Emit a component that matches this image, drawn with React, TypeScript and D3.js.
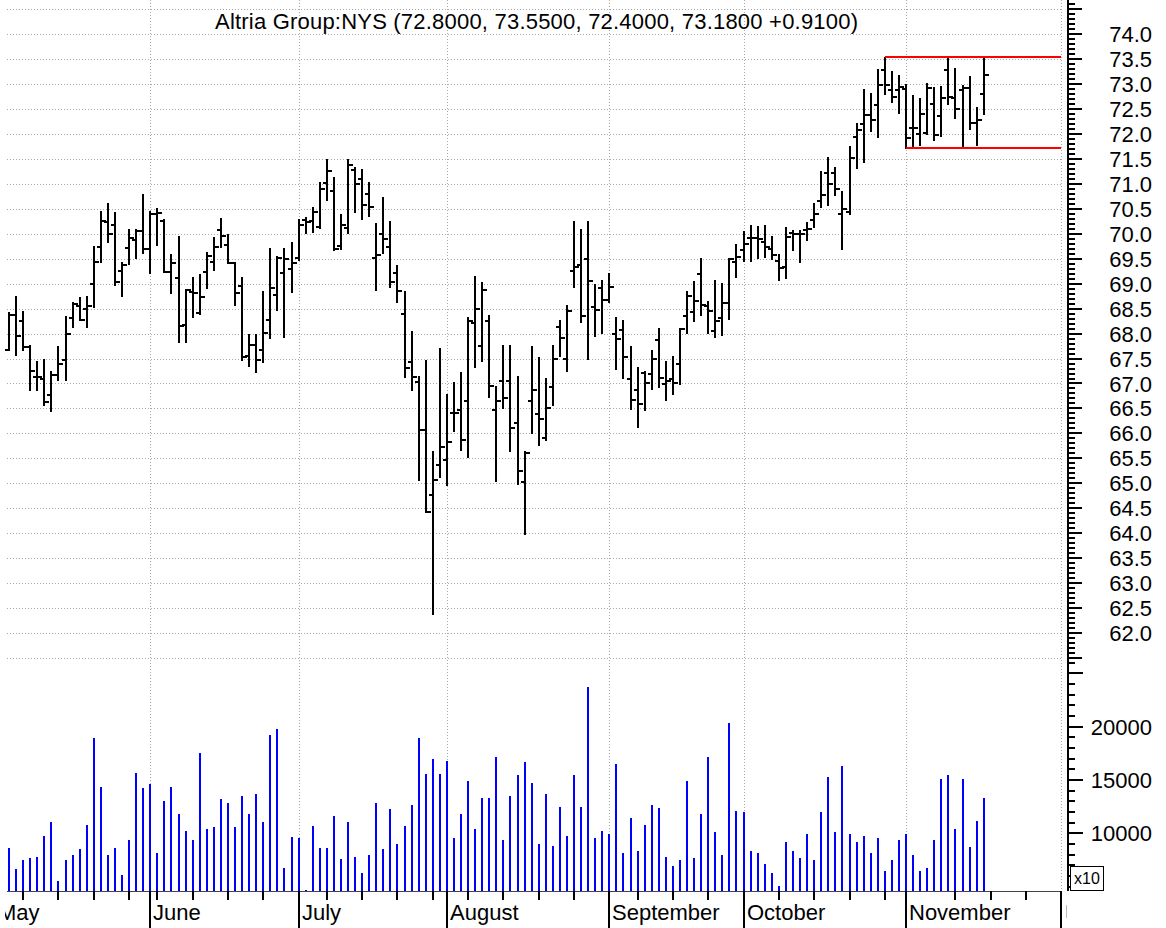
import React from "react";
import * as d3 from "d3";

// Altria Group daily bars, 3 May - 16 Nov (one entry per trading day)
const opens = [
  67.68, 68.37, 68.25, 67.74, 67.14, 67.1, 66.77, 67.17, 67.47, 68.32,
  68.55, 68.5, 69.0, 69.74, 70.24, 70.18, 69.26, 69.72, 69.88, 70.06,
  69.69, 70.4, 70.26, 69.23, 69.11, 68.17, 68.84, 68.42, 69.24, 69.44,
  70.08, 69.78, 69.41, 68.95, 67.55, 67.77, 67.67, 68.27, 68.77, 69.21,
  69.29, 69.51, 70.28, 70.26, 70.14, 71.01, 70.85, 69.76, 70.11, 71.28,
  71.09, 70.8, 69.52, 70.0, 69.74, 69.22, 68.4, 67.43, 67.03, 66.06,
  64.76, 65.36, 65.47, 66.4, 66.46, 66.65, 68.21, 67.76, 68.25, 66.46,
  67.05, 67.05, 66.21, 65.03, 66.65, 66.38, 65.9, 66.92, 68.13, 67.5,
  69.26, 69.38, 69.5, 68.54, 68.91, 68.67, 67.99, 68.07, 67.09, 66.87,
  67.22, 67.2, 67.87, 66.98, 67.09, 67.39, 68.35, 68.43, 69.2, 68.56,
  68.05, 68.31, 68.61, 69.43, 69.68, 69.92, 69.92, 69.83, 69.7, 69.46,
  69.33, 70.01, 70.0, 70.08, 70.27, 70.65, 71.21, 71.21, 70.4, 70.44,
  71.94, 72.21, 72.38, 72.58, 73.28, 72.88, 72.88, 72.91, 72.13, 72.01,
  72.02, 72.61, 72.36, 73.28, 72.73, 72.88, 72.92, 72.23, 72.8,
];
const highs = [
  68.41, 68.74, 68.44, 67.75, 67.44, 67.47, 67.24, 67.74, 68.34, 68.61,
  68.71, 68.74, 69.74, 70.44, 70.6, 70.41, 69.41, 70.08, 70.08, 70.78,
  70.44, 70.49, 70.28, 69.58, 69.94, 68.87, 69.11, 69.17, 69.61, 69.91,
  70.29, 69.98, 69.42, 69.11, 67.97, 67.97, 68.84, 69.69, 69.54, 69.69,
  69.81, 70.28, 70.31, 70.51, 71.01, 71.48, 71.11, 70.38, 71.48, 71.31,
  71.28, 71.02, 70.2, 70.72, 70.24, 69.35, 68.83, 68.03, 67.13, 67.46,
  65.63, 67.7, 66.76, 67.01, 67.21, 68.32, 69.13, 69.01, 68.35, 66.92,
  67.76, 67.76, 67.13, 65.63, 67.73, 67.51, 67.1, 67.76, 68.25, 68.56,
  70.24, 70.08, 70.24, 68.98, 69.05, 69.2, 68.31, 68.25, 67.73, 67.31,
  67.24, 67.65, 68.09, 67.43, 67.54, 68.09, 68.83, 69.03, 69.5, 68.63,
  69.06, 68.99, 69.5, 69.78, 70.03, 70.16, 70.13, 70.16, 69.94, 69.57,
  70.12, 70.06, 70.06, 70.22, 70.59, 71.24, 71.51, 71.31, 70.84, 71.73,
  72.21, 72.88, 72.81, 73.29, 73.53, 73.25, 73.16, 72.98, 72.76, 72.71,
  73.01, 72.93, 72.94, 73.5, 73.31, 72.97, 73.15, 72.53, 73.55,
];
const lows = [
  67.67, 67.57, 67.67, 66.87, 66.87, 66.57, 66.44, 67.07, 67.08, 68.14,
  68.27, 68.14, 68.54, 69.44, 69.84, 68.98, 68.76, 69.39, 69.51, 69.62,
  69.21, 69.78, 69.24, 68.81, 67.84, 67.84, 68.34, 68.39, 68.91, 69.28,
  69.74, 69.41, 68.57, 67.47, 67.35, 67.24, 67.44, 67.91, 68.47, 67.94,
  68.84, 69.48, 70.01, 70.04, 70.11, 70.68, 69.68, 69.69, 70.01, 70.44,
  70.3, 70.36, 68.88, 69.62, 68.93, 68.63, 67.13, 66.86, 65.07, 64.43,
  62.39, 65.13, 64.96, 66.05, 65.67, 65.53, 67.34, 67.46, 66.73, 65.05,
  66.5, 65.65, 64.98, 63.98, 66.01, 65.76, 65.86, 66.56, 67.56, 67.26,
  68.93, 68.23, 67.49, 67.96, 68.01, 68.63, 67.29, 67.11, 66.49, 66.12,
  66.46, 66.89, 66.92, 66.67, 66.79, 66.99, 68.01, 68.26, 68.38, 68.01,
  67.93, 67.98, 68.29, 69.14, 69.45, 69.46, 69.51, 69.53, 69.5, 69.08,
  69.12, 69.67, 69.43, 69.87, 70.14, 70.54, 70.57, 70.77, 69.7, 70.4,
  71.31, 71.44, 72.06, 71.93, 72.8, 72.64, 72.42, 71.71, 71.74, 71.77,
  72.01, 71.87, 71.95, 72.6, 72.33, 71.73, 72.1, 71.78, 72.4,
];
const closes = [
  68.37, 67.96, 67.74, 67.25, 67.14, 66.62, 67.17, 67.4, 68.0, 68.6,
  68.28, 68.55, 69.44, 70.26, 69.99, 69.04, 69.38, 69.91, 70.06, 69.69,
  70.4, 70.41, 69.24, 69.41, 68.15, 68.87, 68.81, 68.74, 69.56, 69.73,
  69.96, 69.42, 68.81, 67.54, 67.77, 67.47, 68.02, 68.91, 69.51, 69.5,
  69.41, 70.18, 70.24, 70.44, 70.89, 71.25, 69.69, 70.18, 71.38, 70.99,
  70.58, 70.53, 69.57, 69.89, 69.04, 68.86, 67.32, 67.13, 66.06, 64.43,
  65.06, 65.73, 65.83, 66.4, 65.86, 68.25, 68.5, 68.87, 66.94, 66.65,
  66.7, 66.1, 65.25, 65.61, 66.86, 66.28, 66.5, 67.5, 67.91, 68.46,
  69.34, 68.35, 69.05, 68.47, 68.67, 68.94, 67.89, 67.53, 66.66, 66.58,
  67.02, 67.49, 67.12, 67.06, 67.01, 68.09, 68.76, 68.65, 68.58, 68.46,
  68.25, 68.61, 69.5, 69.53, 69.8, 69.92, 69.9, 69.73, 69.58, 69.32,
  69.93, 70.0, 69.99, 70.1, 70.39, 70.77, 70.99, 70.9, 70.5, 71.51,
  72.09, 72.38, 72.28, 72.99, 72.99, 72.74, 72.94, 71.91, 72.13, 72.4,
  72.93, 71.97, 72.73, 72.74, 72.5, 72.92, 72.22, 72.28, 73.18,
];
// volume in units of x10
const volumes = [
  8650, 6625, 7500, 7656, 7810, 9747, 11090, 5557, 7500, 7966,
  8500, 10750, 18906, 14370, 7966, 8650, 6090, 9372, 15625, 14219,
  14590, 8181, 13028, 14370, 11810, 10244, 9372, 17500, 10400, 10560,
  13187, 12870, 10560, 13525, 11810, 13684, 11090, 19215, 19750, 6775,
  9685, 9530, 4684, 10715, 8650, 8650, 11622, 7590, 11090, 7810,
  6250, 7966, 12810, 8500, 12310, 8997, 10715, 12650, 18906, 15560,
  16965, 15560, 16810, 9530, 11780, 14900, 10400, 13340, 13340, 17180,
  9372, 13525, 15466, 16656, 14744, 8997, 13684, 8840, 12494, 9747,
  15466, 12494, 23744, 9530, 10216, 9903, 16497, 8125, 11466, 8340,
  10778, 12650, 12340, 7810, 6935, 7500, 14900, 7656, 11810, 17180,
  10090, 7966, 20310, 12120, 11970, 8340, 8181, 7122, 6250, 5060,
  9215, 8340, 7656, 9903, 7500, 11970, 15250, 10090, 16310, 9903,
  9215, 9747, 8181, 9560, 6465, 7500, 9372, 9903, 7966, 6465,
  6775, 9372, 15090, 15466, 10400, 15090, 8690, 11125, 13340,
];

const monthLabels = ["May", "June", "July", "August", "September", "October", "November", ""];
const monthStarts = [-2, 20, 41, 62, 85, 104, 127, 149];
const weekStarts = [2, 7, 12, 17, 21, 26, 31, 36, 45, 50, 55, 60, 65, 70, 75, 80, 89, 94, 99, 109, 114, 119, 124, 134, 139, 144];
const priceLabels = [62, 62.5, 63, 63.5, 64, 64.5, 65, 65.5, 66, 66.5, 67, 67.5, 68, 68.5, 69, 69.5, 70, 70.5, 71, 71.5, 72, 72.5, 73, 73.5, 74];
const volumeLabels = [10000, 15000, 20000];
const title = "Altria Group:NYS (72.8000, 73.5500, 72.4000, 73.1800 +0.9100)";
// trading range drawn in red: [start bar, price]
const rangeTop = [124, 73.55];
const rangeBottom = [127, 71.72];

const W = 1166;
const H = 928;
const left = 7;
const axisX = 1068;
const baseY = 891;
const font = "'Liberation Sans', Arial, sans-serif";

export default function App() {
  const xs = d3.scaleLinear().domain([0, 138]).range([9, 983.7]);
  const x = (i: number) => Math.round(xs(i));
  const yP = d3.scaleLinear().domain([62, 74]).range([633, 34.2]);
  const yV = d3.scaleLinear().domain([10000, 20000]).range([833.3, 726.7]);
  const right = x(149);

  const priceGrid = d3.range(123, 150).map((d) => d / 2); // 61.5 .. 74.5
  const priceTicks = d3.range(614, 748).map((d) => d / 10);
  const volTicks = d3.range(5, 26).map((d) => d * 1000);

  return (
    <svg
      width={W}
      height={H}
      style={{ position: "absolute", left: 0, top: 0, background: "#fff" }}
      fontFamily={font}
    >
      <defs>
        <clipPath id="labels">
          <rect x={5} y={baseY} width={W} height={H - baseY} />
        </clipPath>
      </defs>
      <rect width={W} height={H} fill="#fff" />

      {/* grid */}
      <g stroke="#a8a8a8" strokeWidth={1} strokeDasharray="1 2">
        {priceGrid.map((p) => (
          <line key={p} x1={left} x2={right} y1={Math.round(yP(p)) + 0.5} y2={Math.round(yP(p)) + 0.5} />
        ))}
        {monthStarts.slice(1).map((m) => (
          <line key={m} x1={x(m) + 0.5} x2={x(m) + 0.5} y1={0} y2={baseY} />
        ))}
      </g>

      <text x={215} y={29} fontSize={22} fill="#000" textLength={643} lengthAdjust="spacing">
        {title}
      </text>

      {/* volume */}
      <g stroke="#0000ff" strokeWidth={2}>
        {volumes.map((v, i) => (
          <line key={i} x1={x(i)} x2={x(i)} y1={Math.round(yV(v))} y2={baseY} />
        ))}
      </g>

      {/* OHLC bars */}
      <g stroke="#000" strokeWidth={2}>
        {opens.map((o, i) => {
          const yo = Math.round(yP(o));
          const yc = Math.round(yP(closes[i]));
          return (
            <g key={i}>
              <line x1={x(i)} x2={x(i)} y1={Math.round(yP(highs[i])) - 1} y2={Math.round(yP(lows[i])) + 1} />
              <line x1={x(i) - 4} x2={x(i)} y1={yo} y2={yo} />
              <line x1={x(i)} x2={x(i) + 5} y1={yc} y2={yc} />
            </g>
          );
        })}
      </g>

      {/* trading range */}
      <g stroke="#ff0000" strokeWidth={2}>
        <line x1={x(rangeTop[0])} x2={right} y1={Math.round(yP(rangeTop[1]))} y2={Math.round(yP(rangeTop[1]))} />
        <line x1={x(rangeBottom[0])} x2={right} y1={Math.round(yP(rangeBottom[1]))} y2={Math.round(yP(rangeBottom[1]))} />
      </g>

      {/* x axis */}
      <line x1={left} x2={right} y1={baseY + 0.5} y2={baseY + 0.5} stroke="#444" strokeWidth={1} />
      <g stroke="#000" strokeWidth={2}>
        {weekStarts.map((w) => (
          <line key={w} x1={x(w)} x2={x(w)} y1={baseY} y2={baseY + 9} />
        ))}
        {monthStarts.map((m) => (
          <line key={m} x1={x(m)} x2={x(m)} y1={baseY} y2={H} />
        ))}
      </g>
      <line x1={1066.5} x2={1066.5} y1={905} y2={918} stroke="#bbb" strokeWidth={1} />
      <g fontSize={22} fill="#000" clipPath="url(#labels)">
        {monthLabels.map((m, i) => (
          <text key={i} x={x(monthStarts[i]) + 3} y={920}>
            {m}
          </text>
        ))}
      </g>

      {/* right axis */}
      <line x1={axisX} x2={axisX} y1={0} y2={baseY} stroke="#000" strokeWidth={2} />
      <g stroke="#000" strokeWidth={2}>
        {priceTicks.map((p) => {
          const major = Math.round(p * 10) % 5 === 0;
          const yy = Math.round(yP(p));
          return <line key={p} x1={axisX} x2={axisX + (major ? 14 : 7)} y1={yy} y2={yy} />;
        })}
        {volTicks.map((v) => {
          const major = v % 5000 === 0;
          const yy = Math.round(yV(v));
          return <line key={v} x1={axisX} x2={axisX + (major ? 15 : 7)} y1={yy} y2={yy} />;
        })}
      </g>
      <g fontSize={22} fill="#000" textAnchor="end">
        {priceLabels.map((p) => (
          <text key={p} x={1152} y={yP(p) + 8}>
            {p.toFixed(1)}
          </text>
        ))}
        {volumeLabels.map((v) => (
          <text key={v} x={1152} y={yV(v) + 8}>
            {v}
          </text>
        ))}
      </g>
      <rect x={1070.5} y={866.5} width={33} height={24} fill="#fff" stroke="#000" strokeWidth={1} />
      <text x={1074} y={884} fontSize={16} fill="#000">
        x10
      </text>
    </svg>
  );
}
